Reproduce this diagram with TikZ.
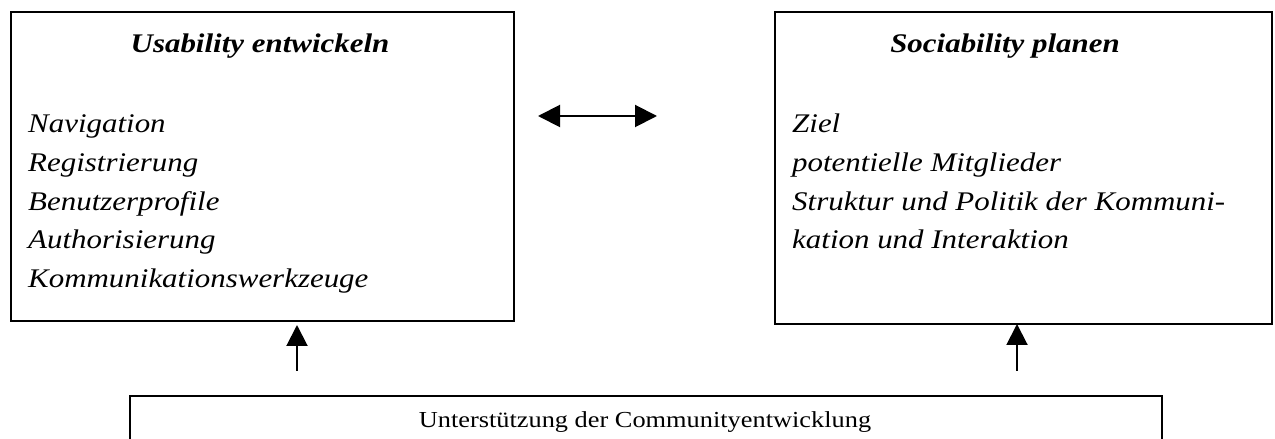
\documentclass[tikz,border=0pt]{standalone}
\usepackage{fontspec}
\setmainfont{Liberation Serif}[FakeStretch=1.15]
\usetikzlibrary{arrows.meta}
\tikzset{
  box/.style={draw=black, line width=1.6bp, inner sep=0pt, anchor=north west},
  item/.style={anchor=base west, inner sep=0pt, font=\fontsize{27}{39}\selectfont\itshape},
  title/.style={anchor=base, inner sep=0pt, font=\fontsize{27}{39}\selectfont\bfseries\itshape},
  plain/.style={anchor=base, inner sep=0pt, font=\fontsize{23}{30}\selectfont},
  uparrow/.style={line width=2bp, -{Triangle[length=21bp,width=21bp]}},
  dblarrow/.style={line width=2bp, {Triangle[length=22bp,width=22bp]}-{Triangle[length=22bp,width=22bp]}}
}
\begin{document}
\begin{tikzpicture}[x=1bp,y=-1bp]
\useasboundingbox (0,0) rectangle (1275,439);
% boxes
\node[box, minimum width=503bp, minimum height=309bp] (lbox) at (10,11) {};
\node[box, minimum width=497bp, minimum height=312bp] (rbox) at (774,11) {};
\node[box, minimum width=1032bp, minimum height=80bp] (bbox) at (129,395) {};
% left box text
\node[title] (lt) at (260,53) {Usability entwickeln};
\node[item] (l1) at (28,133) {Navigation};
\node[item] (l2) at (28,172) {Registrierung};
\node[item] (l3) at (28,211) {Benutzerprofile};
\node[item] (l4) at (28,249) {Authorisierung};
\node[item] (l5) at (28,288) {Kommunikationswerkzeuge};
% right box text
\node[title] (rt) at (1005,53) {Sociability planen};
\node[item] (r1) at (792,133) {Ziel};
\node[item] (r2) at (792,172) {potentielle Mitglieder};
\node[item] (r3) at (792,211) {Struktur und Politik der Kommuni-};
\node[item] (r4) at (792,249) {kation und Interaktion};
% bottom text
\node[plain] (bt) at (645,428) {Unterstützung der Communityentwicklung};
% arrows
\coordinate (la0) at (297,371);
\coordinate (la1) at (297,325);
\coordinate (ra0) at (1017,371);
\coordinate (ra1) at (1017,324);
\coordinate (da) at (538,116);
\coordinate (db) at (657,116);
\draw[uparrow] (la0) -- (la1);
\draw[uparrow] (ra0) -- (ra1);
\draw[dblarrow] (da) -- (db);
\end{tikzpicture}
\end{document}
